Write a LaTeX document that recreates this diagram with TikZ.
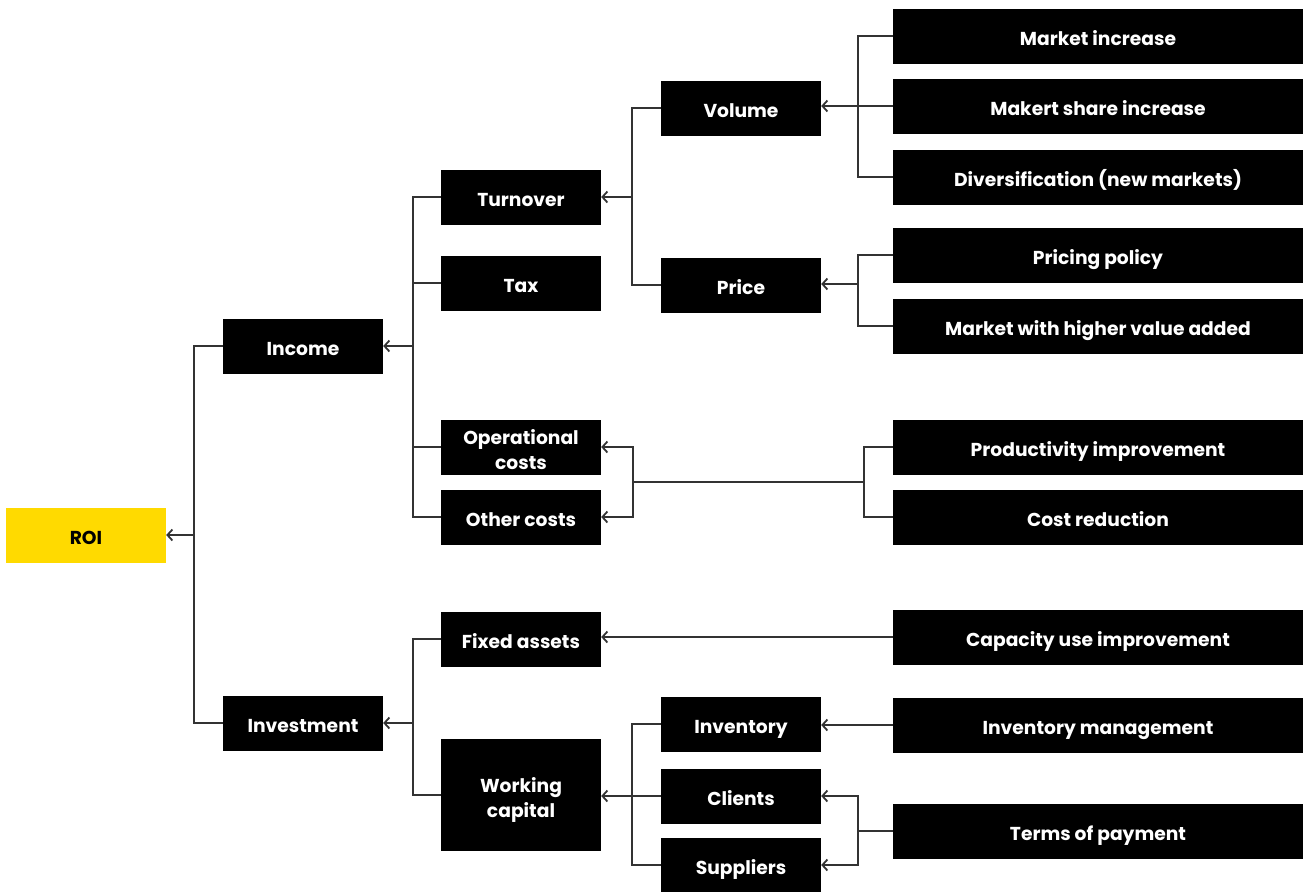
\documentclass[tikz,border=0pt]{standalone}
\usepackage{fontspec}
\setmainfont{Poppins}
\usetikzlibrary{arrows.meta}
\newcommand\tl[1]{\raisebox{-4.5pt}[\height][\depth]{\begin{tabular}{@{}c@{}}#1\end{tabular}}}
\begin{document}
\begin{tikzpicture}[x=1pt,y=-1pt,
  box/.style={fill=black,text=white,minimum width=160pt,minimum height=55pt,inner sep=0pt,font=\fontsize{18.7}{25}\selectfont\bfseries},
  wide/.style={box,minimum width=410pt},
  roibox/.style={box,fill=roiyellow,text=black},
  ln/.style={draw=black!80,line width=1.2pt},
  arr/.style={ln,-{Straight Barb[length=5pt,width=11pt,line width=1.8pt]}}
]
\definecolor{roiyellow}{HTML}{FFDA00}
\useasboundingbox (0,0) rectangle (1303,892);
% nodes
\node[roibox] (roi) at (86,535) {\tl{ROI}};
\node[box] (income) at (303,346) {\tl{Income}};
\node[box] (investment) at (303,723) {\tl{Investment}};
\node[box] (turnover) at (521,197) {\tl{Turnover}};
\node[box] (tax) at (521,283) {\tl{Tax}};
\node[box] (opcosts) at (521,447) {\tl{Operational\\costs}};
\node[box] (othercosts) at (521,517) {\tl{Other costs}};
\node[box] (fixed) at (521,639) {\tl{Fixed assets}};
\node[box,minimum height=112pt] (working) at (521,795) {\tl{Working\\capital}};
\node[box] (volume) at (741,108) {\tl{Volume}};
\node[box] (price) at (741,285) {\tl{Price}};
\node[box] (inventory) at (741,724) {\tl{Inventory}};
\node[box] (clients) at (741,796) {\tl{Clients}};
\node[box,minimum height=54pt] (suppliers) at (741,865) {\tl{Suppliers}};
\node[wide] (mi) at (1098,36) {\tl{Market increase}};
\node[wide] (msi) at (1098,106) {\tl{Makert share increase}};
\node[wide] (div) at (1098,177) {\tl{Diversification (new markets)}};
\node[wide] (pp) at (1098,255) {\tl{Pricing policy}};
\node[wide] (mhv) at (1098,326) {\tl{Market with higher value added}};
\node[wide] (prod) at (1098,447) {\tl{Productivity improvement}};
\node[wide] (cr) at (1098,517) {\tl{Cost reduction}};
\node[wide] (cap) at (1098,637) {\tl{Capacity use improvement}};
\node[wide] (invm) at (1098,725) {\tl{Inventory management}};
\node[wide] (top) at (1098,831) {\tl{Terms of payment}};
% bus coordinates
\coordinate (b1) at (194,535);
\coordinate (b2) at (413,346);
\coordinate (b3) at (413,723);
\coordinate (b4) at (632,197);
\coordinate (b5) at (858,106);
\coordinate (b6) at (858,284);
\coordinate (b7a) at (633,482);
\coordinate (b7b) at (864,482);
\coordinate (b8) at (632,796);
\coordinate (b9) at (858,831);
% ROI
\draw[ln] (income.west) -| (b1) |- (investment.west);
\draw[arr] (b1) -- (roi.east);
% Income
\draw[ln] (turnover.west) -| (b2) |- (othercosts.west);
\draw[ln] (tax.west) -| (b2);
\draw[ln] (opcosts.west) -| (b2);
\draw[arr] (b2) -- (income.east);
% Investment
\draw[ln] (fixed.west) -| (b3) |- (working.west);
\draw[arr] (b3) -- (investment.east);
% Turnover
\draw[ln] (volume.west) -| (b4) |- (price.west);
\draw[arr] (b4) -- (turnover.east);
% Volume
\draw[ln] (mi.west) -| (b5) |- (div.west);
\draw[ln] (msi.west) -- (b5);
\draw[arr] (b5) -- (volume.east |- b5);
% Price
\draw[ln] (pp.west) -| (b6) |- (mhv.west);
\draw[arr] (b6) -- (price.east |- b6);
% costs
\draw[ln] (prod.west) -| (b7b) |- (cr.west);
\draw[ln] (b7b) -- (b7a);
\draw[arr] (b7a) |- (opcosts.east);
\draw[arr] (b7a) |- (othercosts.east);
% Fixed assets
\draw[arr] (cap.west) -- (fixed.east |- cap.west);
% Working capital
\draw[ln] (inventory.west) -| (b8) |- (suppliers.west);
\draw[ln] (clients.west) -- (b8);
\draw[arr] (b8) -- (working.east |- b8);
% Inventory
\draw[arr] (invm.west) -- (inventory.east |- invm.west);
% Terms of payment
\draw[ln] (top.west) -- (b9);
\draw[arr] (b9) |- (clients.east);
\draw[arr] (b9) |- (suppliers.east);
\end{tikzpicture}
\end{document}
